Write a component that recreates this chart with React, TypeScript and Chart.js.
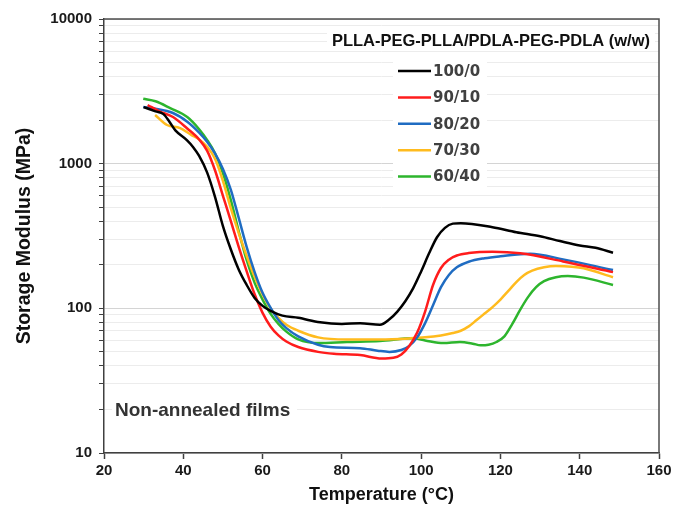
import { useEffect, useRef } from "react";
import { Chart, registerables } from "chart.js";
Chart.register(...registerables);

const FONT = "'Liberation Sans', Arial, sans-serif";

const X_MIN = 20;
const X_MAX = 160;
const X_STEP = 20;
const Y_MIN = 10;
const Y_MAX = 10000;
const Y_DECADES = [10, 100, 1000];
const Y_MULTS = [1, 2, 3, 4, 5, 6, 7, 8, 9];

const LEGEND_TITLE = "PLLA-PEG-PLLA/PDLA-PEG-PDLA (w/w)";
const NOTE = "Non-annealed films";
const LABELS = ["100/0", "90/10", "80/20", "70/30", "60/40"];
const COLORS = ["#000000", "#ff1c1c", "#1f6cc2", "#ffbb1e", "#2db52d"];

const T_100_0 = [30, 33, 35, 36.5, 38, 40.9, 42.5, 44, 46, 48, 50, 52, 54, 56, 58, 60, 62, 65, 69, 74.5, 80, 84.6, 89.6, 92, 94, 96, 98, 100, 102, 104, 106, 108, 110, 118, 124, 130, 135, 140, 144, 148.4];
const E_100_0 = [2460, 2300, 2200, 1950, 1700, 1455, 1300, 1130, 870, 590, 370, 255, 185, 145, 118, 104, 96, 89, 86, 80, 78, 79, 77, 84, 95, 112, 138, 180, 240, 310, 360, 385, 388, 364, 336, 315, 292, 272, 262, 242];

const T_90_10 = [31, 34, 37.4, 41, 44, 46, 48, 50, 52, 54, 56, 58, 60, 62, 64, 66, 69, 74, 78, 84.6, 90, 93, 95, 97, 99, 101, 103, 105, 107, 109, 112, 118, 125, 135.8, 148.4];
const E_90_10 = [2540, 2300, 2100, 1750, 1470, 1230, 900, 600, 400, 265, 180, 125, 93, 75, 65, 59, 54, 50, 48.5, 47.5, 45, 45.5, 48, 55, 68, 95, 145, 190, 217, 232, 241, 246, 240, 211, 178];

const T_80_20 = [29.9, 33, 37.4, 41, 44, 46, 48, 50, 52, 54, 56, 58, 60, 62, 64, 66, 69, 74, 77, 84.6, 89, 92, 95, 97, 99, 101, 103, 105, 107, 109, 112, 116, 120, 127.5, 135.8, 148.4];
const E_80_20 = [2460, 2400, 2240, 1950, 1640, 1420, 1180, 920, 660, 420, 265, 178, 128, 101, 83, 73, 64, 56, 54, 53, 51, 50, 51.5, 55, 63, 79, 105, 140, 170, 192, 210, 222, 229, 238, 218, 184];

const T_70_30 = [32.9, 35.9, 39.2, 42, 44, 46, 48, 50, 52, 54, 56, 58, 60, 62, 64, 66, 69, 74, 81.3, 89.6, 97.2, 101, 105, 108, 110, 112, 114, 116, 118, 120, 122, 124, 126, 128, 131, 134, 138, 141, 148.4];
const E_70_30 = [2170, 1850, 1760, 1580, 1470, 1310, 1080, 760, 490, 330, 230, 165, 125, 100, 86, 77, 70, 63, 61, 61, 62, 63, 65, 67.5, 70, 75, 83, 92, 102, 115, 132, 152, 170, 182, 192, 196, 194, 189, 164];

const T_60_40 = [29.9, 33, 36.7, 41, 44, 46, 48, 50, 52, 54, 56, 58, 60, 62, 64, 66, 69, 74, 81.3, 89.6, 98, 101, 105.6, 109.8, 113, 115, 117, 119, 121, 123, 125, 127, 129, 131, 134, 137, 141, 148.4];
const E_60_40 = [2810, 2700, 2420, 2100, 1730, 1460, 1180, 860, 560, 340, 215, 150, 115, 92, 78, 69, 61, 57.5, 58.5, 59.4, 62, 60, 57.5, 58.5, 57, 55.5, 56, 58.5, 64, 78, 98, 120, 140, 154, 164, 167, 163, 145];

const SERIES_T = [T_100_0, T_90_10, T_80_20, T_70_30, T_60_40];
const SERIES_E = [E_100_0, E_90_10, E_80_20, E_70_30, E_60_40];

const Y_TICKS = [...Y_DECADES.flatMap((d) => Y_MULTS.map((m) => d * m)), Y_MAX];

const isDecade = (v: number) => {
  const lg = Math.log10(v);
  return Math.abs(lg - Math.round(lg)) < 1e-9;
};

const overlay = {
  id: "overlay",
  beforeDatasetsDraw(chart: any) {
    const { ctx, chartArea: a } = chart;
    ctx.save();
    ctx.fillStyle = "#ffffff";
    ctx.fillRect(a.right - 266, a.top + 39, 94, 129);
    ctx.fillRect(a.right - 332, a.top + 14, 328, 16);
    ctx.fillRect(a.left + 8, a.bottom - 54, 185, 22);
    ctx.restore();
  },
  afterDraw(chart: any) {
    const { ctx, chartArea: a } = chart;
    ctx.save();
    ctx.strokeStyle = "#4d4d4d";
    ctx.lineWidth = 1.5;
    ctx.beginPath();
    ctx.moveTo(a.left, a.top);
    ctx.lineTo(a.right, a.top);
    ctx.lineTo(a.right, a.bottom);
    ctx.stroke();

    ctx.fillStyle = "#111111";
    ctx.font = `bold 16.5px ${FONT}`;
    ctx.textAlign = "right";
    ctx.textBaseline = "middle";
    ctx.fillText(LEGEND_TITLE, a.right - 9, a.top + 22);

    chart.data.datasets.forEach((ds: any, i: number) => {
      const y = a.top + 52 + i * 26.4;
      ctx.strokeStyle = ds.borderColor;
      ctx.lineWidth = 2.5;
      ctx.beginPath();
      ctx.moveTo(a.right - 261, y);
      ctx.lineTo(a.right - 228, y);
      ctx.stroke();
      ctx.fillStyle = "#404040";
      ctx.font = `bold 15px 'DejaVu Sans', Verdana, sans-serif`;
      ctx.textAlign = "left";
      ctx.fillText(ds.label, a.right - 226, y + 1);
    });

    ctx.fillStyle = "#333333";
    ctx.font = `bold 19px ${FONT}`;
    ctx.textAlign = "left";
    ctx.fillText(NOTE, a.left + 11, a.bottom - 42);
    ctx.restore();
  },
};

export default function App() {
  const ref = useRef<HTMLCanvasElement>(null);
  useEffect(() => {
    if (!ref.current) return;
    const chart = new Chart(ref.current, {
      type: "line",
      data: {
        datasets: LABELS.map((label, i) => ({
          label,
          data: SERIES_T[i].map((t, j) => ({ x: t, y: SERIES_E[i][j] })),
          borderColor: COLORS[i],
          backgroundColor: COLORS[i],
          borderWidth: 2.5,
          pointRadius: 0,
          tension: 0.4,
          cubicInterpolationMode: "monotone",
          fill: false,
        })),
      },
      options: {
        animation: false,
        responsive: false,
        devicePixelRatio: 1,
        layout: { padding: { left: 0, right: 25, top: 19, bottom: 0 } },
        plugins: { legend: { display: false }, tooltip: { enabled: false } },
        scales: {
          x: {
            type: "linear",
            min: X_MIN,
            max: X_MAX,
            ticks: {
              stepSize: X_STEP,
              font: { family: FONT, size: 15, weight: "bold" },
              color: "#1a1a1a",
              padding: 3,
            },
            grid: { drawOnChartArea: false, tickLength: 6, tickColor: "#404040", tickWidth: 1.5 },
            border: { color: "#404040", width: 1.5 },
            title: {
              display: true,
              text: "Temperature (°C)",
              font: { family: FONT, size: 18, weight: "bold" },
              color: "#111111",
              padding: { top: 0, bottom: 0 },
            },
            afterFit: (s: any) => {
              s.height = 53;
            },
          },
          y: {
            type: "logarithmic",
            min: Y_MIN,
            max: Y_MAX,
            afterBuildTicks: (s: any) => {
              s.ticks = Y_TICKS.map((v) => ({ value: v, major: isDecade(v) }));
            },
            ticks: {
              autoSkip: false,
              callback: (v: any) => (isDecade(Number(v)) ? String(v) : ""),
              font: { family: FONT, size: 15, weight: "bold" },
              color: "#1a1a1a",
              padding: 7,
            },
            grid: {
              color: (c: any) => (c.tick && isDecade(c.tick.value) ? "#d4d4d4" : "#ececec"),
              lineWidth: 1,
              tickLength: 5,
              tickColor: "#404040",
              tickWidth: 1,
            },
            border: { color: "#404040", width: 1.5 },
            title: {
              display: true,
              text: "Storage Modulus (MPa)",
              font: { family: FONT, size: 19.5, weight: "bold" },
              color: "#111111",
              padding: { top: 13, bottom: 0 },
            },
            afterFit: (s: any) => {
              s.width = 104;
            },
          },
        },
      },
      plugins: [overlay],
    });
    return () => chart.destroy();
  }, []);
  return (
    <div style={{ position: "fixed", left: 0, top: 0, width: 684, height: 506, background: "#fff" }}>
      <canvas ref={ref} width={684} height={506} style={{ display: "block" }} />
    </div>
  );
}
